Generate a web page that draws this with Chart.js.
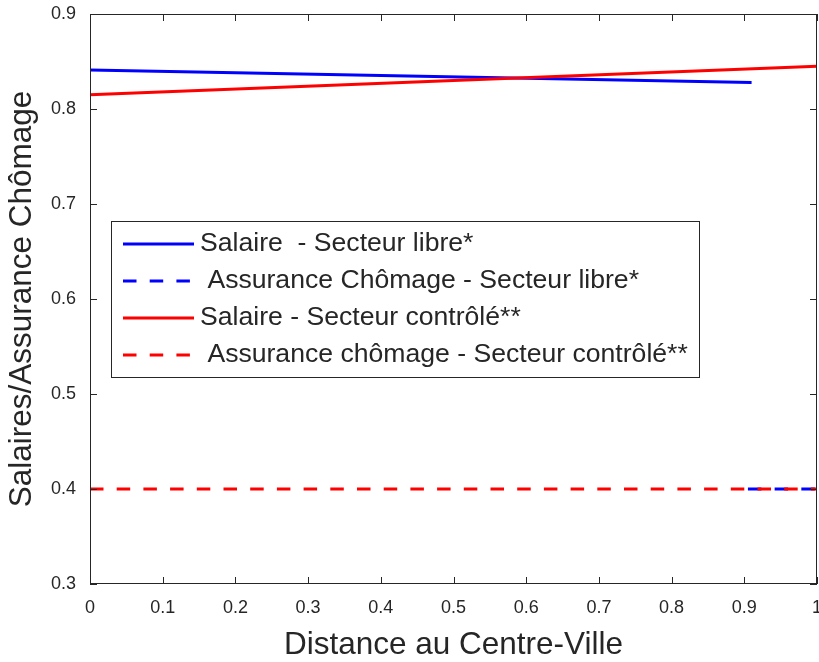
<!DOCTYPE html>
<html>
<head>
<meta charset="utf-8">
<script src="https://cdn.jsdelivr.net/npm/chart.js@4"></script>
<style>
  body { margin: 0; background: #fff; }
  canvas { display: block; }
</style>
</head>
<body>
<canvas id="salaryChart" width="819" height="662"></canvas>
<script>
// Data
const distLibre = [0, 0.91];
const salaireLibre = [0.841, 0.828];
const distAssLibre = [0.905, 1];
const assuranceLibre = [0.4, 0.4];
const distControle = [0, 1];
const salaireControle = [0.815, 0.845];
const assuranceControle = [0.4, 0.4];

const xTicks = [0, 0.1, 0.2, 0.3, 0.4, 0.5, 0.6, 0.7, 0.8, 0.9, 1];
const yTicks = [0.3, 0.4, 0.5, 0.6, 0.7, 0.8, 0.9];

const legendLabels = [
  "Salaire  - Secteur libre*",
  " Assurance Chômage - Secteur libre*",
  "Salaire - Secteur contrôlé**",
  " Assurance chômage - Secteur contrôlé**",
];

const axisColor = "#262626";
const fontFamily = "'Liberation Sans', Arial, Helvetica, sans-serif";
const dash = [13.5, 13.2];

const toPoints = (xs, ys) => xs.map((x, i) => ({ x: x, y: ys[i] }));

// box round the axes with inward ticks, like matlab
const axesBox = {
  id: "axesBox",
  afterDatasetsDraw(chart) {
    const { ctx, chartArea: a, scales } = chart;
    ctx.save();
    ctx.strokeStyle = axisColor;
    ctx.lineWidth = 1;
    ctx.strokeRect(a.left + 0.5, a.top + 0.5, a.right - a.left - 1, a.bottom - a.top - 1);
    const tl = 7;
    ctx.beginPath();
    xTicks.forEach((v) => {
      const px = Math.round(scales.x.getPixelForValue(v)) + 0.5;
      ctx.moveTo(px, a.bottom);
      ctx.lineTo(px, a.bottom - tl);
      ctx.moveTo(px, a.top);
      ctx.lineTo(px, a.top + tl);
    });
    yTicks.forEach((v) => {
      const py = Math.round(scales.y.getPixelForValue(v)) + 0.5;
      ctx.moveTo(a.left, py);
      ctx.lineTo(a.left + tl, py);
      ctx.moveTo(a.right, py);
      ctx.lineTo(a.right - tl, py);
    });
    ctx.stroke();
    ctx.restore();
  },
};

// legend drawn inside the plot
const insideLegend = {
  id: "insideLegend",
  afterDraw(chart) {
    const { ctx } = chart;
    const bx = 111, by = 221, bw = 588, bh = 156;
    ctx.save();
    ctx.fillStyle = "#fff";
    ctx.fillRect(bx, by, bw, bh);
    ctx.strokeStyle = axisColor;
    ctx.lineWidth = 1;
    ctx.strokeRect(bx + 0.5, by + 0.5, bw, bh);
    ctx.font = "26.6px " + fontFamily;
    ctx.textBaseline = "middle";
    ctx.textAlign = "left";
    legendLabels.forEach((label, i) => {
      const ds = chart.data.datasets[i];
      const y = 244 + i * 37;
      ctx.strokeStyle = ds.borderColor;
      ctx.lineWidth = ds.borderWidth;
      ctx.setLineDash(ds.borderDash || []);
      ctx.beginPath();
      ctx.moveTo(123, y);
      ctx.lineTo(194, y);
      ctx.stroke();
      ctx.setLineDash([]);
      ctx.fillStyle = axisColor;
      ctx.fillText(label, 200, y);
    });
    ctx.restore();
  },
};

const ctx = document.getElementById("salaryChart").getContext("2d");
const salaryChart = new Chart(ctx, {
  type: "line",
  data: {
    datasets: [
      {
        label: legendLabels[0],
        data: toPoints(distLibre, salaireLibre),
        borderColor: "#0000ff",
        borderWidth: 3,
        order: 2,
      },
      {
        label: legendLabels[1],
        data: toPoints(distAssLibre, assuranceLibre),
        borderColor: "#0000ff",
        borderWidth: 3,
        borderDash: dash,
        order: 3,
      },
      {
        label: legendLabels[2],
        data: toPoints(distControle, salaireControle),
        borderColor: "#ff0000",
        borderWidth: 3,
        order: 1,
      },
      {
        label: legendLabels[3],
        data: toPoints(distControle, assuranceControle),
        borderColor: "#ff0000",
        borderWidth: 3,
        borderDash: dash,
        order: 0,
      },
    ],
  },
  options: {
    responsive: false,
    animation: false,
    layout: { padding: { top: 14, right: 2, left: 0, bottom: 0 } },
    elements: { point: { radius: 0 }, line: { tension: 0, borderCapStyle: "butt" } },
    plugins: {
      legend: { display: false },
      tooltip: { enabled: false },
    },
    scales: {
      x: {
        type: "linear",
        min: 0,
        max: 1,
        afterBuildTicks: (scale) => { scale.ticks = xTicks.map((v) => ({ value: v })); },
        afterFit: (scale) => {
          scale.height = 78;
          scale.paddingLeft = 0;
          scale.paddingRight = 0;
        },
        grid: { display: false, drawTicks: false },
        border: { display: false },
        ticks: {
          padding: 13,
          color: axisColor,
          font: { family: fontFamily, size: 18 },
          callback: (v) => String(+v.toFixed(1)),
        },
        title: {
          display: true,
          text: "Distance au Centre-Ville",
          color: axisColor,
          font: { family: fontFamily, size: 31.5 },
          padding: { top: 0, bottom: -2 },
        },
      },
      y: {
        min: 0.3,
        max: 0.9,
        afterBuildTicks: (scale) => { scale.ticks = yTicks.map((v) => ({ value: v })); },
        afterFit: (scale) => {
          scale.width = 90;
          scale.paddingTop = 0;
          scale.paddingBottom = 0;
        },
        grid: { display: false, drawTicks: false },
        border: { display: false },
        ticks: {
          padding: 14,
          color: axisColor,
          font: { family: fontFamily, size: 18 },
          callback: (v) => (+v).toFixed(1),
        },
        title: {
          display: true,
          text: "Salaires/Assurance Chômage",
          color: axisColor,
          font: { family: fontFamily, size: 31.5 },
          padding: { top: 3, bottom: 0 },
        },
      },
    },
  },
  plugins: [axesBox, insideLegend],
});
</script>
</body>
</html>
